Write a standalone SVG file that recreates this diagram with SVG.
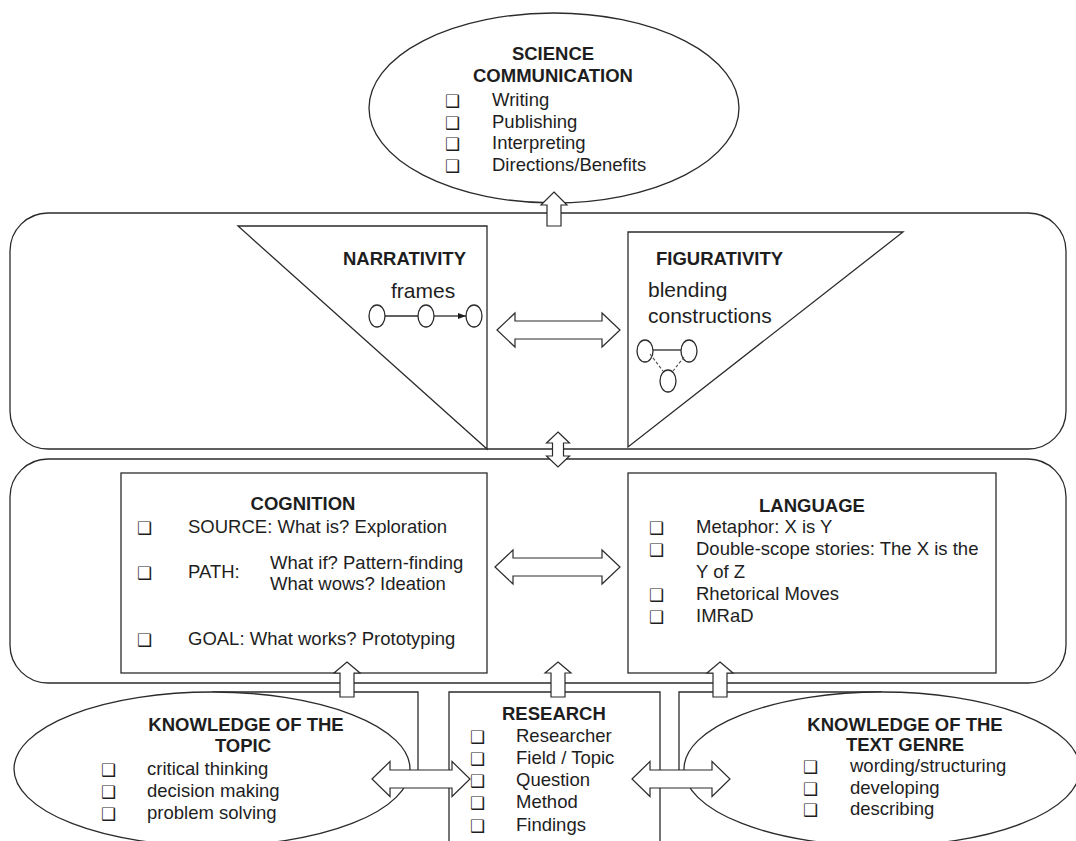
<svg xmlns="http://www.w3.org/2000/svg" width="1076" height="841" viewBox="0 0 1076 841">
<style>
.ln{fill:none;stroke:#2b2b2b;stroke-width:1.3}
.sh{fill:#fff;stroke:#2b2b2b;stroke-width:1.3}
.ar{fill:#fff;stroke:#2b2b2b;stroke-width:1.2}
.t{font-family:"Liberation Sans",Arial,sans-serif;font-size:18.5px;fill:#1e1e1e}
.b{font-weight:bold}
.c{text-anchor:middle}
.big{font-size:21px}
.cb{font-family:"DejaVu Sans",sans-serif;font-size:17px;font-weight:bold;fill:#1e1e1e}
.dash{fill:none;stroke:#555;stroke-width:1.2;stroke-dasharray:3 2}
</style>
<defs>
<marker id="tri" markerWidth="8" markerHeight="6" refX="8" refY="3" orient="auto" markerUnits="userSpaceOnUse">
<path d="M0,0 L8,3 L0,6 Z" fill="#1e1e1e"/>
</marker>
</defs>
<rect width="1076" height="841" fill="#fff"/>

<g id="science-communication">
<ellipse class="sh" cx="554" cy="108" rx="185" ry="95"/>
<text class="t b c" x="553" y="60">SCIENCE</text>
<text class="t b c" x="553" y="82">COMMUNICATION</text>
<text class="cb" x="445" y="107">❑</text><text class="t" x="492" y="106">Writing</text>
<text class="cb" x="445" y="129">❑</text><text class="t" x="492" y="128">Publishing</text>
<text class="cb" x="445" y="150">❑</text><text class="t" x="492" y="149">Interpreting</text>
<text class="cb" x="445" y="172">❑</text><text class="t" x="492" y="171">Directions/Benefits</text>
</g>

<g id="framing-panel">
<rect class="sh" x="10" y="213" width="1056" height="236" rx="38" ry="38"/>
</g>

<g id="narrativity">
<polygon class="sh" points="238,226 487,226 487,449"/>
<text class="t b" x="343" y="265">NARRATIVITY</text>
<text class="t big" x="391" y="298">frames</text>
<ellipse class="ln" cx="377" cy="316" rx="8" ry="11"/>
<ellipse class="ln" cx="426" cy="316" rx="8" ry="11"/>
<ellipse class="ln" cx="474" cy="316" rx="8" ry="11"/>
<line class="ln" x1="385" y1="316" x2="418" y2="316"/>
<line class="ln" x1="434" y1="316" x2="466" y2="316" marker-end="url(#tri)"/>
</g>

<g id="figurativity">
<polygon class="sh" points="628,232 903,232 628,447"/>
<text class="t b" x="656" y="265">FIGURATIVITY</text>
<text class="t big" x="648" y="297">blending</text>
<text class="t big" x="648" y="323">constructions</text>
<ellipse class="ln" cx="645" cy="351" rx="8" ry="11"/>
<ellipse class="ln" cx="689" cy="351" rx="8" ry="11"/>
<ellipse class="ln" cx="668" cy="381" rx="8" ry="11"/>
<line class="ln" x1="653" y1="350" x2="681" y2="350"/>
<line class="dash" x1="650" y1="354" x2="663" y2="371"/>
<line class="dash" x1="684" y1="357" x2="673" y2="371"/>
</g>

<g id="thinking-panel">
<rect class="sh" x="10" y="459" width="1056" height="224" rx="38" ry="38"/>
</g>

<g id="cognition">
<rect class="sh" x="121" y="473" width="366" height="200"/>
<text class="t b c" x="303" y="510">COGNITION</text>
<text class="cb" x="137" y="534">❑</text><text class="t" x="188" y="533">SOURCE: What is? Exploration</text>
<text class="cb" x="137" y="579">❑</text><text class="t" x="188" y="578">PATH:</text>
<text class="t" x="270" y="569">What if? Pattern-finding</text>
<text class="t" x="270" y="590">What wows? Ideation</text>
<text class="cb" x="137" y="646">❑</text><text class="t" x="188" y="645">GOAL: What works? Prototyping</text>
</g>

<g id="language">
<rect class="sh" x="628" y="473" width="368" height="200"/>
<text class="t b c" x="812" y="512">LANGUAGE</text>
<text class="cb" x="649" y="534">❑</text><text class="t" x="696" y="533">Metaphor: X is Y</text>
<text class="cb" x="649" y="556">❑</text><text class="t" x="696" y="555">Double-scope stories: The X is the</text>
<text class="t" x="696" y="578">Y of Z</text>
<text class="cb" x="649" y="601">❑</text><text class="t" x="696" y="600">Rhetorical Moves</text>
<text class="cb" x="649" y="623">❑</text><text class="t" x="696" y="622">IMRaD</text>
</g>

<g id="research">
<path class="sh" d="M449,845 V692 H660 V845"/>
<text class="t b" x="502" y="720">RESEARCH</text>
<text class="cb" x="470" y="743">❑</text><text class="t" x="516" y="742">Researcher</text>
<text class="cb" x="470" y="765">❑</text><text class="t" x="516" y="764">Field / Topic</text>
<text class="cb" x="470" y="787">❑</text><text class="t" x="516" y="786">Question</text>
<text class="cb" x="470" y="809">❑</text><text class="t" x="516" y="808">Method</text>
<text class="cb" x="470" y="832">❑</text><text class="t" x="516" y="831">Findings</text>
</g>

<g id="connectors">
<path class="ln" d="M212,692 H418 V772"/>
<path class="ln" d="M882,692 H679 V772"/>
</g>

<g id="knowledge-topic">
<ellipse class="sh" cx="212" cy="769" rx="198" ry="77"/>
<text class="t b c" x="246" y="731">KNOWLEDGE OF THE</text>
<text class="t b c" x="243" y="752">TOPIC</text>
<text class="cb" x="101" y="776">❑</text><text class="t" x="147" y="775">critical thinking</text>
<text class="cb" x="101" y="798">❑</text><text class="t" x="147" y="797">decision making</text>
<text class="cb" x="101" y="820">❑</text><text class="t" x="147" y="819">problem solving</text>
</g>

<g id="knowledge-genre">
<ellipse class="sh" cx="882" cy="769" rx="198" ry="77"/>
<text class="t b c" x="905" y="731">KNOWLEDGE OF THE</text>
<text class="t b c" x="905" y="751">TEXT GENRE</text>
<text class="cb" x="803" y="773">❑</text><text class="t" x="850" y="772">wording/structuring</text>
<text class="cb" x="803" y="795">❑</text><text class="t" x="850" y="794">developing</text>
<text class="cb" x="803" y="816">❑</text><text class="t" x="850" y="815">describing</text>
</g>

<g id="arrows">
<path class="ar" d="M554,192 L567,205 L561,205 L561,226 L547,226 L547,205 L541,205 Z"/>
<polygon class="ar" points="497,330 515,313 515,321 602,321 602,313 620,330 602,347 602,339 515,339 515,347"/>
<polygon class="ar" points="558,432 569.5,443 563.5,443 563.5,456 569.5,456 558,467 546.5,456 552.5,456 552.5,443 546.5,443"/>
<polygon class="ar" points="495,567 513,550 513,558 602,558 602,550 620,567 602,584 602,576 513,576 513,584"/>
<path class="ar" d="M347,662 L360,673 L354,673 L354,697 L340,697 L340,673 L334,673 Z"/>
<path class="ar" d="M558,662 L571,673 L565,673 L565,697 L551,697 L551,673 L545,673 Z"/>
<path class="ar" d="M720,662 L733,673 L727,673 L727,697 L713,697 L713,673 L707,673 Z"/>
<polygon class="ar" points="372,779 390,761.5 390,770 452,770 452,761.5 470,779 452,796.5 452,788 390,788 390,796.5"/>
<polygon class="ar" points="632,779 650,761.5 650,770 712,770 712,761.5 730,779 712,796.5 712,788 650,788 650,796.5"/>
</g>
</svg>
